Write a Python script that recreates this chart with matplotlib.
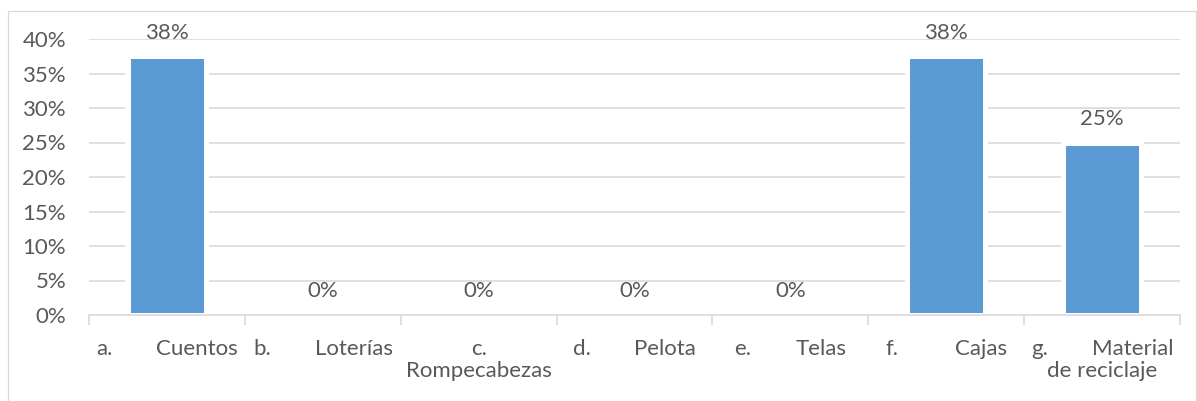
import matplotlib
matplotlib.use("Agg")
import matplotlib.pyplot as plt
from matplotlib import transforms
from matplotlib.patches import Rectangle
import numpy as np

# ---- data ----
label_left = ["a.", "b.", "c.", "d.", "e.", "f.", "g."]
label_right = ["Cuentos", "Loterías", "Rompecabezas", "Pelota", "Telas", "Cajas", "Material"]
label_second = ["", "", "", "", "", "", "de reciclaje"]
values = [0.375, 0.0, 0.0, 0.0, 0.0, 0.375, 0.25]
value_labels = ["38%", "0%", "0%", "0%", "0%", "38%", "25%"]
yticks = [0.0, 0.05, 0.10, 0.15, 0.20, 0.25, 0.30, 0.35, 0.40]
ytick_labels = ["0%", "5%", "10%", "15%", "20%", "25%", "30%", "35%", "40%"]

FONT = "Lato"
FS = 16
TXT = "#595959"
GRID = "#d9d9d9"
BAR = "#5b9bd5"

W, H = 1197, 401
fig = plt.figure(figsize=(W / 100, H / 100), dpi=100)
fig.patch.set_facecolor("white")

# outer chart border
fig.add_artist(Rectangle((7.5 / W, -0.1), (1196 - 7.5) / W, (H - 10.5) / H + 0.1,
                         transform=fig.transFigure, fill=False,
                         edgecolor=GRID, linewidth=0.9))

ax = fig.add_axes([89 / W, 86 / H, (1180 - 89) / W, (315 - 39) / H])
n = len(values)
x = np.arange(n)
ax.set_xlim(-0.5, n - 0.5)
ax.set_ylim(0, 0.40)

for y in yticks[1:]:
    ax.axhline(y, color=GRID, linewidth=1.2, zorder=1)

# white gap around bars, then the bars with a white outline
ax.bar(x, values, width=0.532, color="white", zorder=2, linewidth=0)
ax.bar(x, values, width=0.50, color=BAR, zorder=3, edgecolor="white", linewidth=3.6)

for xi, v, lab in zip(x, values, value_labels):
    ax.annotate(lab, (xi, v), xytext=(0, 12.7), textcoords="offset points",
                ha="center", va="baseline", fontsize=FS, color=TXT, family=FONT)

for s in ["top", "right", "left"]:
    ax.spines[s].set_visible(False)
ax.spines["bottom"].set_color(GRID)
ax.spines["bottom"].set_linewidth(1.2)
ax.spines["bottom"].set_zorder(5)
ax.set_yticks(yticks)
ax.set_yticklabels(ytick_labels, fontsize=FS, color=TXT, family=FONT)
ax.tick_params(axis="y", length=0, pad=16.5)
ax.set_xticks(np.arange(-0.5, n, 1.0))
ax.set_xticklabels([])
ax.tick_params(axis="x", length=7, color=GRID, width=1.2)

# category labels: "left      right" centered, wrapped like the original
fig.canvas.draw()
renderer = fig.canvas.get_renderer()
base = transforms.blended_transform_factory(ax.transData, fig.transFigure)
y1 = (H - 355) / H
y2 = (H - 377) / H
GAP = 44
for i in range(n):
    l, r, s = label_left[i], label_right[i], label_second[i]
    if r == "Rompecabezas":
        ax.text(i, y1, l, transform=base, ha="center", va="baseline",
                fontsize=FS, color=TXT, family=FONT)
        ax.text(i, y2, r, transform=base, ha="center", va="baseline",
                fontsize=FS, color=TXT, family=FONT)
        continue
    t1 = ax.text(i, y1, l, transform=base, ha="left", va="baseline",
                 fontsize=FS, color=TXT, family=FONT)
    t2 = ax.text(i, y1, r, transform=base, ha="left", va="baseline",
                 fontsize=FS, color=TXT, family=FONT)
    w1 = t1.get_window_extent(renderer).width
    w2 = t2.get_window_extent(renderer).width
    gap = 56 if l == "f." else GAP
    total = w1 + gap + w2
    t1.set_transform(transforms.offset_copy(base, fig, x=-total / 2, y=0, units="dots"))
    t2.set_transform(transforms.offset_copy(base, fig, x=-total / 2 + w1 + gap, y=0, units="dots"))
    if s:
        ax.text(i, y2, s, transform=base, ha="center", va="baseline",
                fontsize=FS, color=TXT, family=FONT)

fig.savefig("out.png", dpi=100)
